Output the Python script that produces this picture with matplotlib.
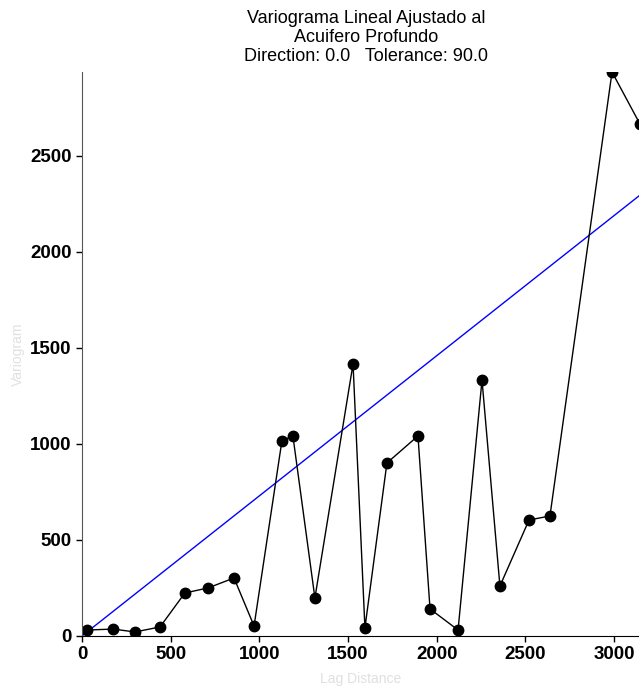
import matplotlib
matplotlib.use("Agg")
import matplotlib.pyplot as plt

plt.rcParams['font.family'] = ['Liberation Sans', 'DejaVu Sans']

# datos del variograma experimental
lag = [28, 175, 299, 440, 580, 710, 857, 970, 1127, 1189, 1313, 1528, 1595,
       1719, 1894, 1962, 2120, 2255, 2356, 2520, 2638, 2988, 3145]
gamma = [31, 36, 21, 47, 224, 250, 302, 52, 1016, 1042, 198, 1417, 42,
         901, 1042, 141, 31, 1333, 260, 604, 625, 2937, 2667]

# modelo lineal ajustado
model_x = [0, 3140]
model_y = [0, 2292]

fig = plt.figure(figsize=(6.39, 6.88), dpi=100)
ax = fig.add_axes([0.1283, 0.0756, 0.8717, 0.8197])

ax.plot(model_x, model_y, color='blue', lw=1)
ax.plot(lag, gamma, color='black', lw=1, marker='o', markersize=7.5)

ax.set_xlim(0, 3140)
ax.set_ylim(0, 2937)
ax.set_xticks([0, 500, 1000, 1500, 2000, 2500, 3000])
ax.set_yticks([0, 500, 1000, 1500, 2000, 2500])

for s in ['top', 'right']:
    ax.spines[s].set_visible(False)
ax.spines['left'].set_color('#555555')
ax.spines['bottom'].set_color('black')
ax.tick_params(direction='out', length=4, labelsize=13.5, width=1)
for lab in ax.get_xticklabels() + ax.get_yticklabels():
    lab.set_fontweight('bold')

ax.set_xlabel('Lag Distance', color='#e0e0e0', fontsize=10, labelpad=6)
ax.set_ylabel('Variogram', color='#e0e0e0', fontsize=10, labelpad=4)
ax.set_title('Variograma Lineal Ajustado al\nAcuifero Profundo\nDirection: 0.0   Tolerance: 90.0',
             fontsize=13, linespacing=1.17, pad=8, x=0.51)

fig.savefig('out.png', dpi=100)
